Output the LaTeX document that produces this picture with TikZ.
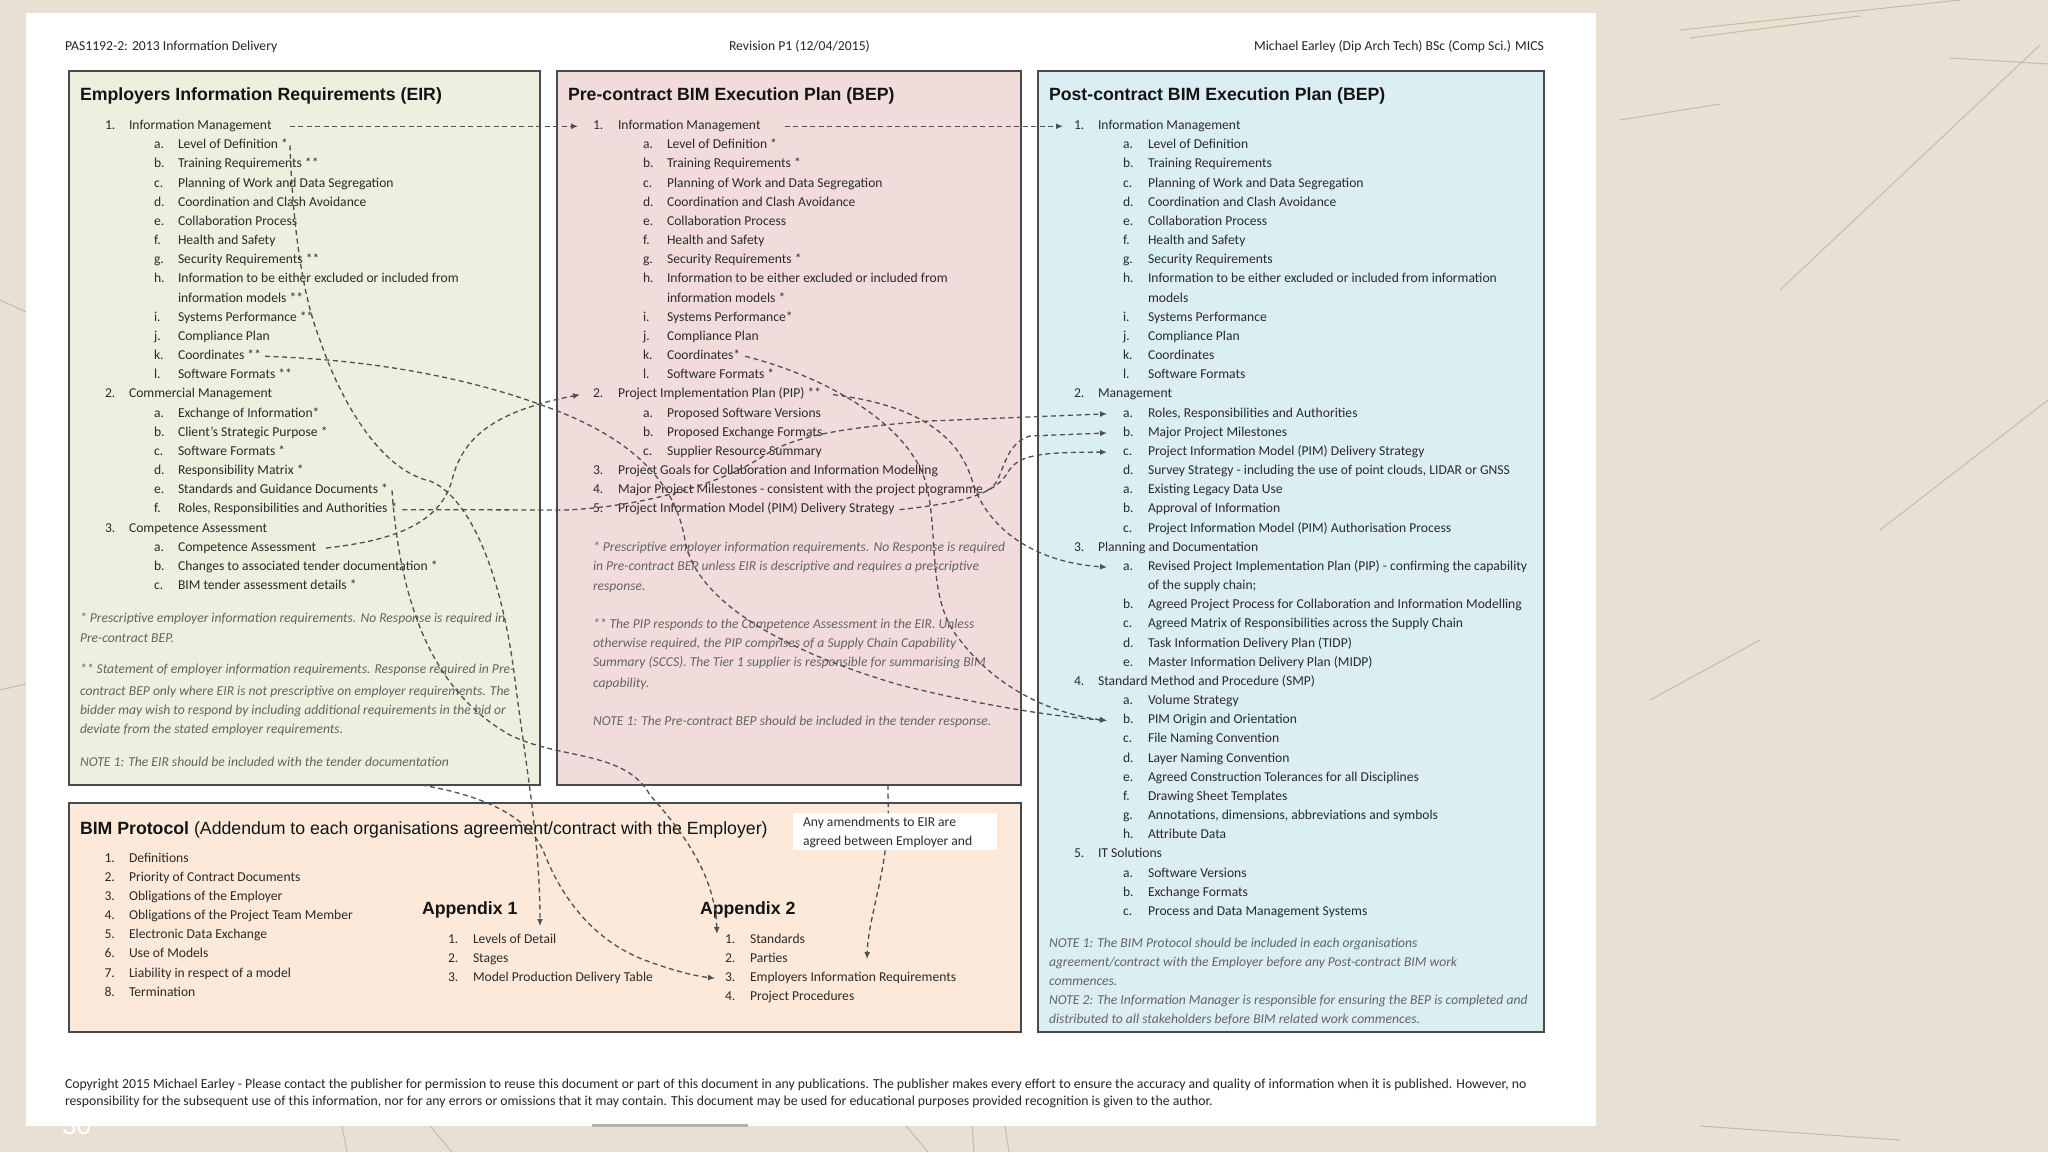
\documentclass[tikz,border=0pt]{standalone}
\usepackage{fontspec}
\setmainfont{Carlito}
\newfontfamily\arialf{Liberation Sans}
\usetikzlibrary{arrows.meta}
\definecolor{bg}{HTML}{E8E0D2}
\definecolor{bgline}{HTML}{C6BBA8}
\definecolor{eirfill}{HTML}{EBF1DE}
\definecolor{prefill}{HTML}{F2DCDB}
\definecolor{postfill}{HTML}{DBEEF4}
\definecolor{bimfill}{HTML}{FDE9D9}
\definecolor{boxline}{HTML}{4A4A4A}
\definecolor{bodytext}{HTML}{2B2B2B}
\definecolor{notegray}{HTML}{646464}
\definecolor{conncol}{HTML}{505050}
\newcommand\Y[1]{129.5+19.17*#1}
\newcommand\li[6]{\node[txt] (#1-n) at (#2,\Y{#4}) {#5}; \node[txt] (#1) at (#3,\Y{#4}) {#6};}
\newcommand\lc[4]{\node[txt] (#1) at (#2,\Y{#3}) {#4};}
\newcommand\lb[6]{\node[txt] (#1-n) at (#2,#4) {#5}; \node[txt] (#1) at (#3,#4) {#6};}
\begin{document}
\begin{tikzpicture}[x=1pt,y=-1pt,
  txt/.style={anchor=base west, inner sep=0pt, outer sep=0pt, text height=9.5pt, text depth=3pt, font=\fontsize{13.6}{16}\selectfont, text=bodytext},
  note/.style={anchor=base west, inner sep=0pt, outer sep=0pt, font=\fontsize{13.6}{16}\selectfont\itshape, text=notegray},
  ttl/.style={anchor=base west, inner sep=0pt, outer sep=0pt, font=\arialf\bfseries\fontsize{17.7}{20}\selectfont, text=black!92},
  hdr/.style={anchor=base west, inner sep=0pt, outer sep=0pt, font=\fontsize{13.7}{16}\selectfont, text=black!85},
  ftr/.style={anchor=base west, inner sep=0pt, outer sep=0pt, font=\fontsize{13.75}{16}\selectfont, text=black!85},
  box/.style={draw=boxline, line width=2pt, anchor=north west, inner sep=0pt, outer sep=0pt},
  conn/.style={draw=conncol, line width=1.3pt, dash pattern=on 5pt off 3.5pt, -{Latex[length=7pt,width=6pt]}},
  connl/.style={draw=conncol, line width=1.3pt, dash pattern=on 5pt off 3.5pt},
  bgl/.style={draw=bgline, line width=1pt}
]
\useasboundingbox (0,0) rectangle (2048,1152);
\fill[bg] (0,0) rectangle (2048,1152);
% background texture lines
\draw[bgl] (1690,38) -- (1860,16);
\draw[bgl] (1680,30) -- (1960,0);
\draw[bgl] (1780,290) -- (2040,45);
\draw[bgl] (1880,530) -- (2048,400);
\draw[bgl] (1620,120) -- (1720,104);
\draw[bgl] (1950,58) -- (2048,64);
\draw[bgl] (1650,700) -- (1760,640);
\draw[bgl] (0,300) -- (26,312);
\draw[bgl] (0,690) -- (26,684);
\draw[bgl] (342,1126) -- (347,1152);
\draw[bgl] (430,1126) -- (452,1152);
\draw[bgl] (906,1126) -- (928,1152);
\draw[bgl] (972,1126) -- (974,1152);
\draw[bgl] (1005,1126) -- (1009,1152);
\draw[bgl] (1700,1126) -- (1900,1140);
% page
\fill[white] (26,13) rectangle (1596,1126);
\draw[line width=3pt, draw=black!30] (592,1125) -- (748,1125);
\node[anchor=base west, inner sep=0pt, font=\arialf\fontsize{26}{28}\selectfont, text=white] (slnum) at (62,1134) {30};

% header
\node[hdr] (h1) at (65,50.5) {PAS1192-2: 2013 Information Delivery};
\node[hdr] (h2) at (729,50.5) {Revision P1 (12/04/2015)};
\node[hdr, anchor=base east] (h3) at (1544,50.5) {Michael Earley (Dip Arch Tech) BSc (Comp Sci.) MICS};

% boxes
\node[box, fill=eirfill, minimum width=471pt, minimum height=714pt] (eir) at (69,71) {};
\node[box, fill=prefill, minimum width=464pt, minimum height=714pt] (pre) at (557,71) {};
\node[box, fill=postfill, minimum width=506pt, minimum height=961pt] (post) at (1038,71) {};
\node[box, fill=bimfill, minimum width=952pt, minimum height=229pt] (bim) at (69,803) {};
\node[fill=white, anchor=north west, inner sep=0pt, minimum width=204pt, minimum height=37pt] (amend) at (793,813) {};

% titles
\node[ttl] (eirt) at (80,100.7) {Employers Information Requirements (EIR)};
\node[ttl] (pret) at (568,100.7) {Pre-contract BIM Execution Plan (BEP)};
\node[ttl] (postt) at (1049,100.7) {Post-contract BIM Execution Plan (BEP)};
\node[ttl] (bimt) at (80,834.5) {BIM Protocol \textmd{(Addendum to each organisations agreement/contract with the Employer)}};
\node[ttl] (app1) at (422,914.5) {Appendix 1};
\node[ttl] (app2) at (700,914.5) {Appendix 2};

% EIR items
\li{e1}{105}{129}{0}{1.}{Information Management}
\li{e1a}{154}{178}{1}{a.}{Level of Definition *}
\li{e1b}{154}{178}{2}{b.}{Training Requirements **}
\li{e1c}{154}{178}{3}{c.}{Planning of Work and Data Segregation}
\li{e1d}{154}{178}{4}{d.}{Coordination and Clash Avoidance}
\li{e1e}{154}{178}{5}{e.}{Collaboration Process}
\li{e1f}{154}{178}{6}{f.}{Health and Safety}
\li{e1g}{154}{178}{7}{g.}{Security Requirements **}
\li{e1h}{154}{178}{8}{h.}{Information to be either excluded or included from}
\lc{e1hh}{178}{9}{information models **}
\li{e1i}{154}{178}{10}{i.}{Systems Performance **}
\li{e1j}{154}{178}{11}{j.}{Compliance Plan}
\li{e1k}{154}{178}{12}{k.}{Coordinates **}
\li{e1l}{154}{178}{13}{l.}{Software Formats **}
\li{e2}{105}{129}{14}{2.}{Commercial Management}
\li{e2a}{154}{178}{15}{a.}{Exchange of Information*}
\li{e2b}{154}{178}{16}{b.}{Client’s Strategic Purpose *}
\li{e2c}{154}{178}{17}{c.}{Software Formats *}
\li{e2d}{154}{178}{18}{d.}{Responsibility Matrix *}
\li{e2e}{154}{178}{19}{e.}{Standards and Guidance Documents *}
\li{e2f}{154}{178}{20}{f.}{Roles, Responsibilities and Authorities *}
\li{e3}{105}{129}{21}{3.}{Competence Assessment}
\li{e3a}{154}{178}{22}{a.}{Competence Assessment}
\li{e3b}{154}{178}{23}{b.}{Changes to associated tender documentation *}
\li{e3c}{154}{178}{24}{c.}{BIM tender assessment details *}
\node[note] (en1) at (80,622.5) {* Prescriptive employer information requirements. No Response is required in};
\node[note] (en2) at (80,642.5) {Pre-contract BEP.};
\node[note] (en3) at (80,673.5) {** Statement of employer information requirements. Response required in Pre-};
\node[note] (en4) at (80,695) {contract BEP only where EIR is not prescriptive on employer requirements. The};
\node[note] (en5) at (80,714.5) {bidder may wish to respond by including additional requirements in the bid or};
\node[note] (en6) at (80,733.5) {deviate from the stated employer requirements.};
\node[note] (en7) at (80,766) {NOTE 1: The EIR should be included with the tender documentation};

% Pre-contract items
\li{p1}{593}{618}{0}{1.}{Information Management}
\li{p1a}{643}{667}{1}{a.}{Level of Definition *}
\li{p1b}{643}{667}{2}{b.}{Training Requirements *}
\li{p1c}{643}{667}{3}{c.}{Planning of Work and Data Segregation}
\li{p1d}{643}{667}{4}{d.}{Coordination and Clash Avoidance}
\li{p1e}{643}{667}{5}{e.}{Collaboration Process}
\li{p1f}{643}{667}{6}{f.}{Health and Safety}
\li{p1g}{643}{667}{7}{g.}{Security Requirements *}
\li{p1h}{643}{667}{8}{h.}{Information to be either excluded or included from}
\lc{p1hh}{667}{9}{information models *}
\li{p1i}{643}{667}{10}{i.}{Systems Performance*}
\li{p1j}{643}{667}{11}{j.}{Compliance Plan}
\li{p1k}{643}{667}{12}{k.}{Coordinates*}
\li{p1l}{643}{667}{13}{l.}{Software Formats *}
\li{p2}{593}{618}{14}{2.}{Project Implementation Plan (PIP) **}
\li{p2a}{643}{667}{15}{a.}{Proposed Software Versions}
\li{p2b}{643}{667}{16}{b.}{Proposed Exchange Formats}
\li{p2c}{643}{667}{17}{c.}{Supplier Resource Summary}
\li{p3}{593}{618}{18}{3.}{Project Goals for Collaboration and Information Modelling}
\li{p4}{593}{618}{19}{4.}{Major Project Milestones - consistent with the project programme}
\li{p5}{593}{618}{20}{5.}{Project Information Model (PIM) Delivery Strategy}
\node[note] (pn1) at (593,551) {* Prescriptive employer information requirements. No Response is required};
\node[note] (pn2) at (593,570.5) {in Pre-contract BEP unless EIR is descriptive and requires a prescriptive};
\node[note] (pn3) at (593,590) {response.};
\node[note] (pn4) at (593,628) {** The PIP responds to the Competence Assessment in the EIR. Unless};
\node[note] (pn5) at (593,647) {otherwise required, the PIP comprises of a Supply Chain Capability};
\node[note] (pn6) at (593,666.5) {Summary (SCCS). The Tier 1 supplier is responsible for summarising BIM};
\node[note] (pn7) at (593,687) {capability.};
\node[note] (pn8) at (593,725) {NOTE 1: The Pre-contract BEP should be included in the tender response.};

% Post-contract items
\li{q1}{1074}{1098}{0}{1.}{Information Management}
\li{q1a}{1123}{1148}{1}{a.}{Level of Definition}
\li{q1b}{1123}{1148}{2}{b.}{Training Requirements}
\li{q1c}{1123}{1148}{3}{c.}{Planning of Work and Data Segregation}
\li{q1d}{1123}{1148}{4}{d.}{Coordination and Clash Avoidance}
\li{q1e}{1123}{1148}{5}{e.}{Collaboration Process}
\li{q1f}{1123}{1148}{6}{f.}{Health and Safety}
\li{q1g}{1123}{1148}{7}{g.}{Security Requirements}
\li{q1h}{1123}{1148}{8}{h.}{Information to be either excluded or included from information}
\lc{q1hh}{1148}{9}{models}
\li{q1i}{1123}{1148}{10}{i.}{Systems Performance}
\li{q1j}{1123}{1148}{11}{j.}{Compliance Plan}
\li{q1k}{1123}{1148}{12}{k.}{Coordinates}
\li{q1l}{1123}{1148}{13}{l.}{Software Formats}
\li{q2}{1074}{1098}{14}{2.}{Management}
\li{q2a}{1123}{1148}{15}{a.}{Roles, Responsibilities and Authorities}
\li{q2b}{1123}{1148}{16}{b.}{Major Project Milestones}
\li{q2c}{1123}{1148}{17}{c.}{Project Information Model (PIM) Delivery Strategy}
\li{q2d}{1123}{1148}{18}{d.}{Survey Strategy - including the use of point clouds, LIDAR or GNSS}
\li{q2e}{1123}{1148}{19}{a.}{Existing Legacy Data Use}
\li{q2f}{1123}{1148}{20}{b.}{Approval of Information}
\li{q2g}{1123}{1148}{21}{c.}{Project Information Model (PIM) Authorisation Process}
\li{q3}{1074}{1098}{22}{3.}{Planning and Documentation}
\li{q3a}{1123}{1148}{23}{a.}{Revised Project Implementation Plan (PIP) - confirming the capability}
\lc{q3aa}{1148}{24}{of the supply chain;}
\li{q3b}{1123}{1148}{25}{b.}{Agreed Project Process for Collaboration and Information Modelling}
\li{q3c}{1123}{1148}{26}{c.}{Agreed Matrix of Responsibilities across the Supply Chain}
\li{q3d}{1123}{1148}{27}{d.}{Task Information Delivery Plan (TIDP)}
\li{q3e}{1123}{1148}{28}{e.}{Master Information Delivery Plan (MIDP)}
\li{q4}{1074}{1098}{29}{4.}{Standard Method and Procedure (SMP)}
\li{q4a}{1123}{1148}{30}{a.}{Volume Strategy}
\li{q4b}{1123}{1148}{31}{b.}{PIM Origin and Orientation}
\li{q4c}{1123}{1148}{32}{c.}{File Naming Convention}
\li{q4d}{1123}{1148}{33}{d.}{Layer Naming Convention}
\li{q4e}{1123}{1148}{34}{e.}{Agreed Construction Tolerances for all Disciplines}
\li{q4f}{1123}{1148}{35}{f.}{Drawing Sheet Templates}
\li{q4g}{1123}{1148}{36}{g.}{Annotations, dimensions, abbreviations and symbols}
\li{q4h}{1123}{1148}{37}{h.}{Attribute Data}
\li{q5}{1074}{1098}{38}{5.}{IT Solutions}
\li{q5a}{1123}{1148}{39}{a.}{Software Versions}
\li{q5b}{1123}{1148}{40}{b.}{Exchange Formats}
\li{q5c}{1123}{1148}{41}{c.}{Process and Data Management Systems}
\node[note] (qn1) at (1049,947) {NOTE 1: The BIM Protocol should be included in each organisations};
\node[note] (qn2) at (1049,966) {agreement/contract with the Employer before any Post-contract BIM work};
\node[note] (qn3) at (1049,985.5) {commences.};
\node[note] (qn4) at (1049,1004.5) {NOTE 2: The Information Manager is responsible for ensuring the BEP is completed and};
\node[note] (qn5) at (1049,1023.5) {distributed to all stakeholders before BIM related work commences.};

% BIM protocol items
\lb{b1}{104.5}{129}{862.5}{1.}{Definitions}
\lb{b2}{104.5}{129}{881.5}{2.}{Priority of Contract Documents}
\lb{b3}{104.5}{129}{900.5}{3.}{Obligations of the Employer}
\lb{b4}{104.5}{129}{919.5}{4.}{Obligations of the Project Team Member}
\lb{b5}{104.5}{129}{938.5}{5.}{Electronic Data Exchange}
\lb{b6}{104.5}{129}{957.5}{6.}{Use of Models}
\lb{b7}{104.5}{129}{977}{7.}{Liability in respect of a model}
\lb{b8}{104.5}{129}{996}{8.}{Termination}
\lb{a11}{448}{473}{943.5}{1.}{Levels of Detail}
\lb{a12}{448}{473}{962.5}{2.}{Stages}
\lb{a13}{448}{473}{981.5}{3.}{Model Production Delivery Table}
\lb{a21}{725}{750}{943.5}{1.}{Standards}
\lb{a22}{725}{750}{962.5}{2.}{Parties}
\lb{a23}{725}{750}{981.5}{3.}{Employers Information Requirements}
\lb{a24}{725}{750}{1000.5}{4.}{Project Procedures}
\node[txt] (am1) at (803,826.5) {Any amendments to EIR are};
\node[txt] (am2) at (803,845.5) {agreed between Employer and};

% footer
\node[ftr] (f1) at (65,1088.5) {Copyright 2015 Michael Earley - Please contact the publisher for permission to reuse this document or part of this document in any publications. The publisher makes every effort to ensure the accuracy and quality of information when it is published. However, no};
\node[ftr] (f2) at (65,1105.5) {responsibility for the subsequent use of this information, nor for any errors or omissions that it may contain. This document may be used for educational purposes provided recognition is given to the author.};

% connectors
\draw[conn] ([xshift=18pt]e1.east) -- ([xshift=-15pt]p1-n.west);
\draw[conn] ([xshift=24pt]p1.east) -- ([xshift=-11pt]q1-n.west);
% Level of Definition -> Appendix 1 Levels of Detail
\draw[conn] ([xshift=2pt]e1a.east) .. controls (292,210) and (300,290) .. (320,340)
  .. controls (340,400) and (380,470) .. (430,481)
  .. controls (465,495) and (500,560) .. (515,680)
  .. controls (525,760) and (540,840) .. ([xshift=67pt,yshift=8pt]a11.north west);
% EIR Coordinates -> PIM Origin
\draw[conn] ([xshift=4pt]e1k.east) .. controls (380,360) and (480,380) .. (560,412)
  .. controls (630,440) and (675,480) .. (685,540)
  .. controls (695,600) and (780,650) .. (900,685)
  .. controls (980,705) and (1050,716) .. ([xshift=-16pt]q4b-n.west);
% Pre Coordinates -> PIM Origin
\draw[conn] ([xshift=5pt]p1k.east) .. controls (820,375) and (905,420) .. (925,480)
  .. controls (940,530) and (925,600) .. (960,640)
  .. controls (990,680) and (1040,712) .. ([xshift=-16pt]q4b-n.west);
% EIR Roles -> Post Roles
\draw[conn] ([xshift=5pt]e2f.east) -- (565,510)
  .. controls (640,507) and (720,485) .. (765,455)
  .. controls (795,435) and (850,427) .. (930,421)
  -- ([xshift=-16pt]q2a-n.west);
% Pre PIM Delivery -> Post PIM Delivery
\draw[conn] ([xshift=5pt]p5.east) .. controls (960,503) and (995,495) .. (1008,472)
  .. controls (1018,456) and (1035,452) .. ([xshift=-16pt]q2c-n.west);
% Pre Milestones -> Post Milestones
\draw[conn] ([xshift=4pt]p4.east) .. controls (1005,484) and (1000,445) .. (1030,436)
  -- ([xshift=-16pt]q2b-n.west);
% Competence Assessment -> PIP
\draw[conn] ([xshift=10pt]e3a.east) .. controls (390,541) and (440,525) .. (452,480)
  .. controls (462,440) and (490,412) .. ([xshift=-13pt]p2-n.west);
% Standards -> Appendix 2 Standards
\draw[conn] ([xshift=4pt]e2e.east) .. controls (400,600) and (430,690) .. (510,735)
  .. controls (560,760) and (625,750) .. (650,795)
  .. controls (690,840) and (715,880) .. ([xshift=-8pt]a21-n.north west);
% EIR -> Appendix 2 EIR
\draw[conn] ([xshift=117pt]eir.south) .. controls (480,795) and (530,815) .. (545,855)
  .. controls (565,905) and (600,945) .. (650,962)
  .. controls (675,971) and (695,976) .. ([xshift=-10pt]a23-n.west);
% PIP -> Revised PIP
\draw[conn] ([xshift=12pt]p2.east) .. controls (900,403) and (955,425) .. (972,480)
  .. controls (985,525) and (1030,562) .. ([xshift=-16pt]q3a-n.west);
% amendments note
\draw[connl] ([xshift=99pt]pre.south) -- ([xshift=-7pt]amend.north);
\draw[conn] ([xshift=-10pt]amend.south) .. controls (880,890) and (868,925) .. ([xshift=117pt,yshift=13pt]a23.north west);
\end{tikzpicture}
\end{document}
